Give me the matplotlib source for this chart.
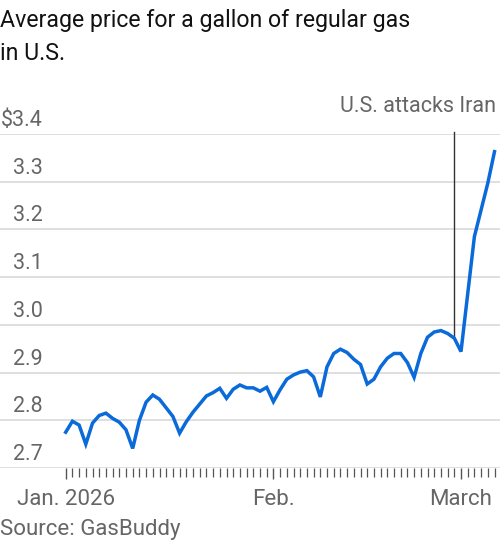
import matplotlib
matplotlib.use("Agg")
import matplotlib.pyplot as plt
import matplotlib.dates as mdates
import numpy as np
import pandas as pd

plt.rcParams["font.family"] = ["Roboto", "DejaVu Sans"]

# ---------------------------------------------------------------- data
start = pd.Timestamp("2026-01-01")
prices = [
    2.775, 2.798, 2.790, 2.750, 2.794, 2.810, 2.815, 2.804, 2.796, 2.780,   # Jan 1-10
    2.741, 2.800, 2.838, 2.853, 2.844, 2.826, 2.808, 2.773, 2.797, 2.817,   # Jan 11-20
    2.834, 2.851, 2.858, 2.867, 2.846, 2.865, 2.874, 2.868, 2.868, 2.861,   # Jan 21-30
    2.869, 2.839, 2.864, 2.886, 2.895, 2.901, 2.904, 2.891, 2.849, 2.912,   # Jan 31-Feb 9
    2.940, 2.949, 2.942, 2.928, 2.917, 2.876, 2.886, 2.912, 2.930, 2.940,   # Feb 10-19
    2.940, 2.921, 2.890, 2.940, 2.974, 2.985, 2.988, 2.982, 2.972, 2.944,   # Feb 20-Mar 1
    3.065, 3.185, 3.241, 3.297, 3.363,                                      # Mar 2-6
]
dates = pd.date_range(start, periods=len(prices), freq="D")
event_date = pd.Timestamp("2026-02-28")
event_label = "U.S. attacks Iran"
yticks = [2.7, 2.8, 2.9, 3.0, 3.1, 3.2, 3.3, 3.4]
ytick_labels = ["2.7", "2.8", "2.9", "3.0", "3.1", "3.2", "3.3", "$3.4"]
month_ticks = [pd.Timestamp("2026-01-01"), pd.Timestamp("2026-02-01"), pd.Timestamp("2026-03-01")]
month_labels = ["Jan. 2026", "Feb.", "March"]

# ---------------------------------------------------------------- figure
W, H = 500, 542
fig = plt.figure(figsize=(W / 100, H / 100), dpi=100)
y0, y1 = 468, 134  # pixel rows of 2.7 and 3.4
ax = fig.add_axes([0, 1 - y0 / H, 1, (y0 - y1) / H])

x_start = mdates.date2num(start)
ppd = 6.7  # pixels per day
ax.set_xlim(x_start - 65.7 / ppd, x_start + (W - 65.7) / ppd)
ax.set_ylim(2.7, 3.4)

for v in yticks:
    ax.axhline(v, color="#dcdcdc", lw=1.3, zorder=0)

ax.plot(dates, prices, color="#0a6ad9", lw=2.5, solid_joinstyle="miter", zorder=3)

ev_val = prices[(event_date - start).days]
ax.plot([event_date, event_date], [ev_val, 3.404], color="#333333", lw=1.0,
        clip_on=False, zorder=2)
fig.text(496 / W, 1 - 106 / H, event_label, ha="right", va="center",
         fontsize=15.5, color="#666666")

# y labels above gridlines
for v, lab in zip(yticks, ytick_labels):
    ypx = y0 - (v - 2.7) * (y0 - y1) / 0.7
    fig.text(43 / W, 1 - (ypx - 13.5) / H, lab, ha="right", va="center",
             fontsize=15.5, color="#666666")

ax.set_yticks([])
ax.xaxis.set_major_locator(matplotlib.ticker.FixedLocator(mdates.date2num(month_ticks)))
ax.xaxis.set_minor_locator(matplotlib.ticker.FixedLocator(mdates.date2num(dates)))
ax.set_xticklabels(month_labels)
ax.tick_params(axis="x", which="major", length=8, width=1.0, color="#555555",
               pad=7, labelsize=16, labelcolor="#666666")
ax.tick_params(axis="x", which="minor", length=6.5, width=0.9, color="#555555")
for s in ax.spines.values():
    s.set_visible(False)

fig.text(0.0, 1 - 20 / H, "Average price for a gallon of regular gas",
         ha="left", va="center", fontsize=16.7, color="#111111")
fig.text(0.0, 1 - 53 / H, "in U.S.", ha="left", va="center",
         fontsize=16.7, color="#111111")
fig.text(0.0, 1 - 529 / H, "Source: GasBuddy", ha="left", va="center",
         fontsize=16, color="#666666")

fig.savefig("out.png", dpi=100)
